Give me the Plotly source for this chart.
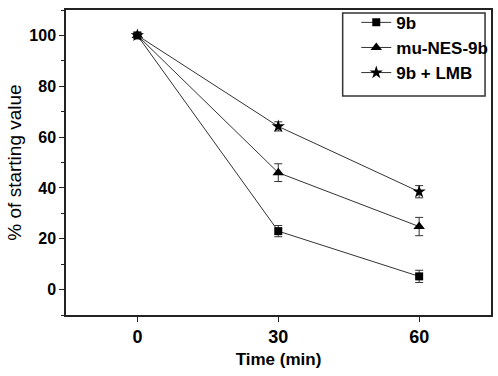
import plotly.graph_objects as go

time = [0, 30, 60]
s_9b = [100, 23.0, 5.2]
e_9b = [0.8, 2.2, 2.4]
s_mu = [100, 46.0, 24.8]
e_mu = [0.8, 3.5, 3.6]
s_lmb = [100, 64.2, 38.5]
e_lmb = [0.8, 1.8, 2.4]

names = ["9b", "mu-NES-9b", "9b + LMB"]
symbols = ["square", "triangle-up", "star"]
sizes = [8, 10, 10]

fig = go.Figure()
for name, ys, es, sym, sz in zip(names, [s_9b, s_mu, s_lmb], [e_9b, e_mu, e_lmb], symbols, sizes):
    fig.add_trace(go.Scatter(
        x=time, y=ys, name=name, mode="lines+markers",
        line=dict(color="#333333", width=1),
        marker=dict(symbol=sym, size=sz, color="black"),
        error_y=dict(type="data", array=es, visible=True, color="#333333", thickness=1, width=4),
    ))

font_fam = "Liberation Sans Narrow, Arial, sans-serif"
fig.update_layout(
    width=498, height=376,
    margin=dict(l=66, r=5, t=6, b=61),
    plot_bgcolor="white", paper_bgcolor="white",
    font=dict(family=font_fam, size=16, color="black", weight="bold"),
    showlegend=True,
    legend=dict(x=0.683, y=1.017, xanchor="left", yanchor="top",
                borderwidth=0, bgcolor="rgba(0,0,0,0)",
                font=dict(size=17, family=font_fam, weight="bold"),
                tracegroupgap=0, itemwidth=30),
    shapes=[dict(type="rect", xref="paper", yref="paper", x0=0.651, x1=0.986, y0=0.718, y1=0.990,
                 line=dict(color="#333333", width=1.5), fillcolor="rgba(0,0,0,0)", layer="above")],
    xaxis=dict(range=[-15.2, 75.3], tickvals=time, ticktext=["0", "30", "60"], automargin=False,
               showgrid=False, zeroline=False, showline=True, linecolor="#222222", linewidth=1.5,
               mirror=True, ticks="outside", ticklen=5, tickcolor="#222222",
               title=dict(text="Time (min)", font=dict(size=17, family=font_fam, weight="bold"), standoff=7),
               tickfont=dict(size=18)),
    yaxis=dict(range=[-10, 110], tickvals=[0, 20, 40, 60, 80, 100], automargin=False,
               showgrid=False, zeroline=False, showline=True, linecolor="#222222", linewidth=1.5,
               mirror=True, ticks="outside", ticklen=5, tickcolor="#222222",
               minor=dict(tickvals=[-10, 10, 30, 50, 70, 90, 110], ticks="outside", ticklen=3, tickcolor="#222222"),
               title=dict(text="% of starting value", font=dict(size=19, family="Arial, Liberation Sans, sans-serif", weight="normal", color="black"), standoff=3),
               tickfont=dict(size=16)),
)
fig.write_html("out.html", post_script="document.body.style.margin='0px';",
               config={"displayModeBar": False})
